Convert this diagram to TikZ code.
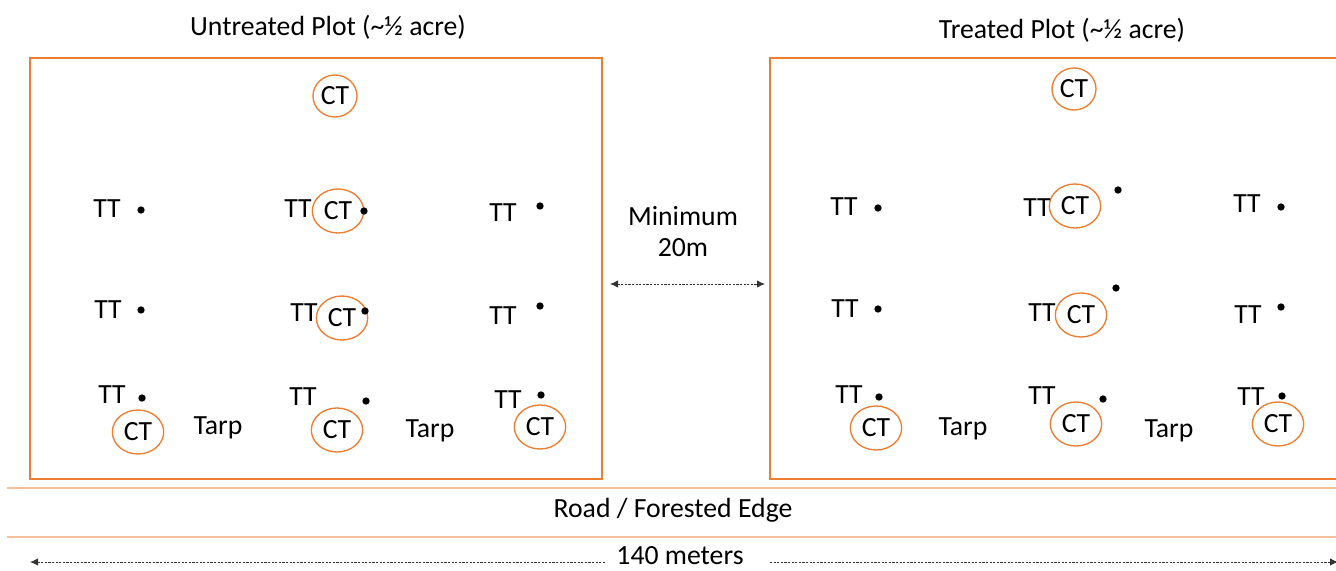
\documentclass[tikz,border=0pt]{standalone}
\usepackage{fontspec}
\setmainfont{Carlito}
\usetikzlibrary{arrows.meta,shapes.geometric}
\definecolor{plotorange}{HTML}{ED7D31}
\definecolor{roadpeach}{HTML}{F5BF9A}
\begin{document}
\begin{tikzpicture}[x=0.75pt,y=-0.75pt,
  font=\fontsize{20.8}{25}\selectfont,
  plotbox/.style={draw=plotorange, line width=1.2pt},
  ct/.style={ellipse, draw=plotorange, line width=1pt, minimum width=38.5pt, minimum height=33pt, inner sep=0pt},
  cttop/.style={ct, minimum width=33pt, minimum height=31.5pt},
  tt/.style={inner sep=0pt},
  tdot/.style={circle, fill=black, inner sep=0pt, minimum size=5.5pt},
  lbl/.style={inner sep=0pt},
  road/.style={draw=roadpeach, line width=1.5pt},
  dim/.style={dash pattern=on 1.6pt off 1.1pt, line width=0.6pt, draw=black!80},
  tip/.style={-{Latex[length=6pt,width=5.5pt]}},
  tips/.style={{Latex[length=6pt,width=5.5pt]}-{Latex[length=6pt,width=5.5pt]}}
]
\useasboundingbox (0,0) rectangle (1336,571);
\clip (0,0) rectangle (1336,571);

% titles
\node[lbl] (t1) at (328,27) {Untreated Plot (\char"7E½ acre)};
\node[lbl] (t2) at (1062,30) {Treated Plot (\char"7E½ acre)};

% plots
\draw[plotbox] (30,58) rectangle (602,479);
\draw[plotbox] (770,58) rectangle (1345,479);

% road lines
\coordinate (r1a) at (7,488); \coordinate (r1b) at (1340,488);
\coordinate (r2a) at (7,537); \coordinate (r2b) at (1340,537);
\draw[road] (r1a) -- (r1b);
\draw[road] (r2a) -- (r2b);
\node[lbl] (road) at (673,510) {Road / Forested Edge};

% minimum distance
\node[lbl] (min1) at (683,216) {Minimum};
\node[lbl] (min2) at (683,248) {20m};
\coordinate (ma) at (610,284);
\coordinate (mb) at (765,284);
\draw[dim,tips] (ma) -- (mb);

% 140 meters
\node[lbl] (len) at (680,556) {140 meters};
\coordinate (la) at (605,562); \coordinate (lb) at (30,562);
\coordinate (lc) at (770,562); \coordinate (ld) at (1338,562);
\draw[dim,tip] (la) -- (lb);
\draw[dim,tip] (lc) -- (ld);

% ---------- Untreated plot ----------
\node[cttop] (uc1) at (335,96) {CT};
\node[ct] (uc2) at (338,211) {CT};
\node[ct] (uc3) at (342,318) {CT};
\node[ct] (uc4) at (138,432) {CT};
\node[ct] (uc5) at (337,430) {CT};
\node[ct] (uc6) at (540,427) {CT};

\node[tt] (ut1) at (107,209) {TT};
\node[tt] (ut2) at (298,209) {TT};
\node[tt] (ut3) at (503,213) {TT};
\node[tt] (ut4) at (108,310) {TT};
\node[tt] (ut5) at (304,313) {TT};
\node[tt] (ut6) at (503,316) {TT};
\node[tt] (ut7) at (112,395) {TT};
\node[tt] (ut8) at (303,397) {TT};
\node[tt] (ut9) at (508,400) {TT};

\node[tdot] (ud1) at (141,210) {};
\node[tdot] (ud2) at (364,211) {};
\node[tdot] (ud3) at (540,206) {};
\node[tdot] (ud4) at (141,310) {};
\node[tdot] (ud5) at (365,311) {};
\node[tdot] (ud6) at (540,306) {};
\node[tdot] (ud7) at (142,398) {};
\node[tdot] (ud8) at (366,401) {};
\node[tdot] (ud9) at (541,395) {};

\node[lbl] (utarp1) at (218,428) {Tarp};
\node[lbl] (utarp2) at (430,431) {Tarp};

% ---------- Treated plot ----------
\node[cttop] (tc1) at (1074,89) {CT};
\node[ct] (tc2) at (1075,206) {CT};
\node[ct] (tc3) at (1081,315) {CT};
\node[ct] (tc4) at (876,428) {CT};
\node[ct] (tc5) at (1076,424) {CT};
\node[ct] (tc6) at (1278,424) {CT};

\node[tt] (tt1) at (844,207) {TT};
\node[tt] (tt2) at (1037,208) {TT};
\node[tt] (tt3) at (1247,204) {TT};
\node[tt] (tt4) at (845,309) {TT};
\node[tt] (tt5) at (1042,313) {TT};
\node[tt] (tt6) at (1248,315) {TT};
\node[tt] (tt7) at (849,395) {TT};
\node[tt] (tt8) at (1042,396) {TT};
\node[tt] (tt9) at (1251,397) {TT};

\node[tdot] (td1) at (878,208) {};
\node[tdot] (td2) at (1118,190) {};
\node[tdot] (td3) at (1281,207) {};
\node[tdot] (td4) at (878,309) {};
\node[tdot] (td5) at (1116,288) {};
\node[tdot] (td6) at (1281,307) {};
\node[tdot] (td7) at (879,397) {};
\node[tdot] (td8) at (1103,399) {};
\node[tdot] (td9) at (1282,396) {};

\node[lbl] (ttarp1) at (963,429) {Tarp};
\node[lbl] (ttarp2) at (1169,431) {Tarp};
\end{tikzpicture}
\end{document}
